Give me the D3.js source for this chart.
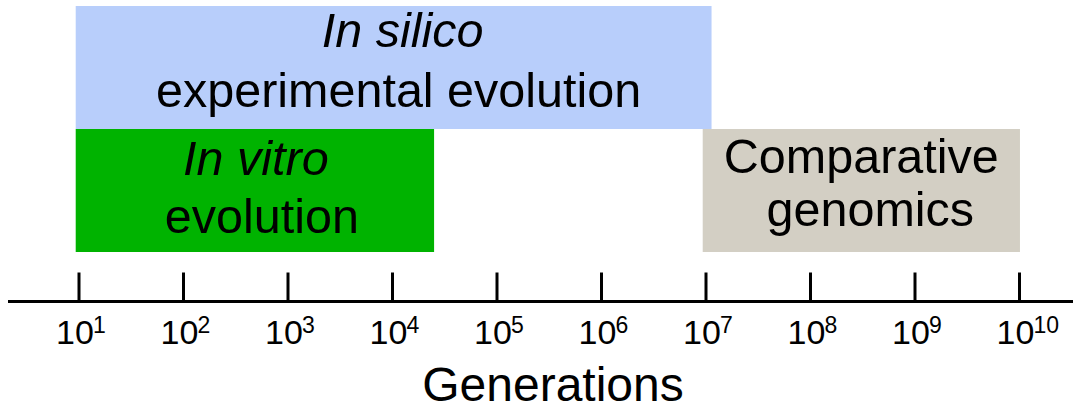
<!DOCTYPE html>
<html>
<head>
<meta charset="utf-8">
<script src="https://cdn.jsdelivr.net/npm/d3@7"></script>
<style>
  html, body { margin: 0; padding: 0; background: #fff; }
  svg { display: block; font-family: "Liberation Sans", Arial, sans-serif; }
</style>
</head>
<body>
<svg id="chart" width="1075" height="411"></svg>
<script>
// ---- data ----
const categories = ["In silico experimental evolution", "In vitro evolution", "Comparative genomics"];
const rowKeys = ["top", "bottom", "bottom"];
const startGen = [9.3, 9.3, 9.3e6];
const endGen = [1.13e7, 2.5e4, 1.01e10];
const italicLines = [["In silico"], ["In vitro"], []];
const plainLines = [["experimental evolution"], ["evolution"], ["Comparative", "genomics"]];
const barColors = ["#b8cefb", "#00b300", "#d3cfc4"];
const tickExponents = [1, 2, 3, 4, 5, 6, 7, 8, 9, 10];
const axisTitle = "Generations";

// ---- layout ----
const svg = d3.select("#chart");
const x = d3.scaleLog().domain([1e1, 1e10]).range([79, 1019.5]);
const y = d3.scaleBand().domain(["top", "bottom"]).range([6, 252]).padding(0);
const axisY = 301.5;

// bars
const bars = categories.map((c, i) => ({
  name: c, row: rowKeys[i], s: startGen[i], e: endGen[i], color: barColors[i],
  lines: italicLines[i].map(t => ({t, it: true})).concat(plainLines[i].map(t => ({t, it: false})))
}));

svg.selectAll("rect.bar").data(bars).join("rect")
  .attr("class", "bar")
  .attr("x", d => x(d.s))
  .attr("y", d => y(d.row))
  .attr("width", d => x(d.e) - x(d.s))
  .attr("height", y.bandwidth())
  .attr("fill", d => d.color);

// label line placement (per bar vertical offsets relative to band)
const lineLayouts = [
  {base: [41, 101], dx: [9, 5]},
  {base: [46, 104], dx: [1, 7]},
  {base: [44, 97], dx: [0, 9]}
];
bars.forEach((b, i) => {
  const cx = (x(b.s) + x(b.e)) / 2;
  const top = y(b.row);
  b.lines.forEach((ln, j) => {
    svg.append("text")
      .attr("x", cx + lineLayouts[i].dx[j])
      .attr("y", top + lineLayouts[i].base[j])
      .attr("text-anchor", "middle")
      .attr("font-size", 48.5)
      .attr("font-style", ln.it ? "italic" : "normal")
      .attr("fill", "#000")
      .text(ln.t);
  });
});

// axis
const axisG = svg.append("g").attr("transform", `translate(0,${axisY})`);
axisG.append("line")
  .attr("x1", 8).attr("x2", 1073).attr("y1", 0).attr("y2", 0)
  .attr("stroke", "#000").attr("stroke-width", 3);
const tickVals = tickExponents.map(e => Math.pow(10, e));
axisG.selectAll("line.tick").data(tickVals).join("line")
  .attr("class", "tick")
  .attr("x1", d => x(d)).attr("x2", d => x(d))
  .attr("y1", -29).attr("y2", 0)
  .attr("stroke", "#000").attr("stroke-width", 3);

const lbl = axisG.selectAll("g.lbl").data(tickExponents).join("g")
  .attr("class", "lbl")
  .attr("transform", e => `translate(${x(Math.pow(10, e)) - 4},0)`);
lbl.append("text")
  .attr("x", 0).attr("y", 42)
  .attr("text-anchor", "middle")
  .attr("font-size", 34)
  .text("10");
lbl.append("text")
  .attr("x", 18).attr("y", 31)
  .attr("text-anchor", "start")
  .attr("font-size", 23)
  .text(e => e);

svg.append("text")
  .attr("x", 553).attr("y", 401)
  .attr("text-anchor", "middle")
  .attr("font-size", 48)
  .text(axisTitle);
</script>
</body>
</html>
